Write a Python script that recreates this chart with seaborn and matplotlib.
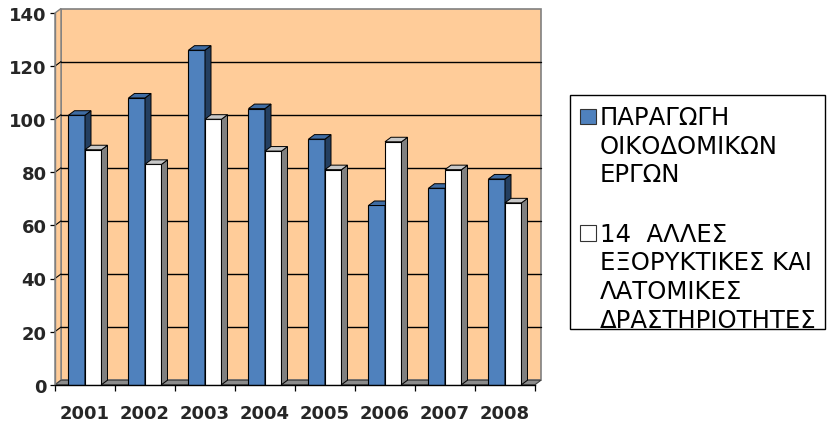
import numpy as np
import pandas as pd
import matplotlib
matplotlib.use("Agg")
import matplotlib.pyplot as plt
from matplotlib.patches import Polygon, Rectangle
import seaborn as sns

# ---- data -------------------------------------------------------------
years = ["2001", "2002", "2003", "2004", "2005", "2006", "2007", "2008"]
construction = [101.5, 108, 126, 104, 92.5, 67.5, 74, 77.5]
quarrying = [88.5, 83, 100, 88, 81, 91.5, 81, 68.5]
series_names = ["ΠΑΡΑΓΩΓΗ ΟΙΚΟΔΟΜΙΚΩΝ ΕΡΓΩΝ",
                "14  ΑΛΛΕΣ ΕΞΟΡΥΚΤΙΚΕΣ ΚΑΙ ΛΑΤΟΜΙΚΕΣ ΔΡΑΣΤΗΡΙΟΤΗΤΕΣ"]
legend_lines = [["ΠΑΡΑΓΩΓΗ", "ΟΙΚΟΔΟΜΙΚΩΝ", "ΕΡΓΩΝ"],
                ["14  ΑΛΛΕΣ", "ΕΞΟΡΥΚΤΙΚΕΣ ΚΑΙ", "ΛΑΤΟΜΙΚΕΣ", "ΔΡΑΣΤΗΡΙΟΤΗΤΕΣ"]]
y_ticks = [0, 20, 40, 60, 80, 100, 120, 140]

df = pd.DataFrame({
    "year": years * 2,
    "series": [series_names[0]] * len(years) + [series_names[1]] * len(years),
    "value": construction + quarrying,
})

# ---- style ------------------------------------------------------------
WALL = "#FFCC99"
GRAY = "#808080"
front_colors = ["#4F81BD", "#FFFFFF"]
top_colors = ["#3F6CA3", "#C8C8C8"]
side_colors = ["#243F60", "#808080"]

sns.set_style("white")
plt.rcParams["font.family"] = ["DejaVu Sans"]

W, H = 828, 427
fig = plt.figure(figsize=(W / 100, H / 100), dpi=100)
ax = fig.add_axes([55 / W, 41.3 / H, 480 / W, 371.7 / H])

sns.barplot(data=df, x="year", y="value", hue="series", palette=front_colors,
            saturation=1, width=0.55, errorbar=None, edgecolor="black",
            linewidth=0.8, legend=False, ax=ax)

ax.set_xlim(-0.5, len(years) - 0.5)
ax.set_ylim(y_ticks[0], y_ticks[-1])
ax.patch.set_visible(False)

# depth of the 3-D box, in pixels, turned into data units
DX, DY = 6.0, 4.5
ddx = DX / (ax.bbox.width / len(years))
ddy = DY / (ax.bbox.height / (y_ticks[-1] - y_ticks[0]))
x_lo, x_hi = -0.5, len(years) - 0.5
y_top = y_ticks[-1]

# back wall
ax.add_patch(Polygon([(x_lo + ddx, ddy), (x_hi + ddx, ddy),
                      (x_hi + ddx, y_top + ddy), (x_lo + ddx, y_top + ddy)],
                     closed=True, facecolor=WALL, edgecolor=GRAY, lw=1.2,
                     zorder=0.5, clip_on=False))
# left side wall
ax.add_patch(Polygon([(x_lo, 0), (x_lo + ddx, ddy),
                      (x_lo + ddx, y_top + ddy), (x_lo, y_top)],
                     closed=True, facecolor=WALL, edgecolor=GRAY, lw=1.0,
                     zorder=0.55, clip_on=False))
# floor
ax.add_patch(Polygon([(x_lo, 0), (x_hi, 0), (x_hi + ddx, ddy), (x_lo + ddx, ddy)],
                     closed=True, facecolor="#8C8C8C", edgecolor="#404040",
                     lw=0.8, zorder=0.6, clip_on=False))
# gridlines on the back wall and the side wall
for v in y_ticks[1:-1]:
    ax.plot([x_lo + ddx, x_hi + ddx], [v + ddy, v + ddy], color="black",
            lw=1.0, zorder=0.7, clip_on=False)
    ax.plot([x_lo, x_lo + ddx], [v, v + ddy], color="black", lw=0.8,
            zorder=0.7, clip_on=False)

# 3-D faces of each bar
for k, cont in enumerate(ax.containers):
    for bar in cont.patches:
        bar.set_zorder(2 + k * 0.2)
        x0 = bar.get_x()
        x1 = x0 + bar.get_width()
        h = bar.get_height()
        ax.add_patch(Polygon([(x1, 0), (x1, h), (x1 + ddx, h + ddy), (x1 + ddx, ddy)],
                             closed=True, facecolor=side_colors[k],
                             edgecolor="black", lw=0.7, zorder=2.1 + k * 0.2,
                             clip_on=False))
        ax.add_patch(Polygon([(x0, h), (x1, h), (x1 + ddx, h + ddy), (x0 + ddx, h + ddy)],
                             closed=True, facecolor=top_colors[k],
                             edgecolor="black", lw=0.7, zorder=2.1 + k * 0.2,
                             clip_on=False))

# axes, ticks, labels
for s in ["top", "right"]:
    ax.spines[s].set_visible(False)
ax.spines["left"].set_color(GRAY)
ax.spines["left"].set_linewidth(1.0)
ax.spines["bottom"].set_color("black")
ax.spines["bottom"].set_linewidth(1.0)
ax.spines["left"].set_zorder(0.8)
ax.spines["bottom"].set_zorder(3)

ax.set_yticks(y_ticks)
ax.set_yticklabels([str(t) for t in y_ticks], fontsize=13, fontweight="bold")
ax.tick_params(axis="y", which="major", left=True, length=3.5, width=0.9,
               color="black", pad=2.5)
ax.set_xticks(range(len(years)))
ax.set_xticklabels(years, fontsize=13, fontweight="bold")
ax.set_xticks(np.arange(-0.5, len(years), 1.0), minor=True)
ax.tick_params(axis="x", which="major", bottom=False, length=0, pad=14)
ax.tick_params(axis="x", which="minor", bottom=True, length=4, width=0.9,
               color="black")
ax.set_xlabel("")
ax.set_ylabel("")

# legend box on the right
def fx(x):
    return x / W


def fy(y):
    return 1 - y / H


fig.patches.append(Rectangle((fx(570), fy(330)), fx(825) - fx(570), fy(96) - fy(330),
                             transform=fig.transFigure, facecolor="white",
                             edgecolor="black", lw=1.0, zorder=1))
first_baselines = [125.3, 241.8]
line_step = 28.6
for k, lines in enumerate(legend_lines):
    b0 = first_baselines[k]
    fig.patches.append(Rectangle((fx(580.5), fy(b0)), fx(15.5), fy(0) - fy(15.5),
                                 transform=fig.transFigure,
                                 facecolor=front_colors[k], edgecolor="#333333",
                                 lw=0.8, zorder=2))
    for j, line in enumerate(lines):
        fig.text(fx(600), fy(b0 + j * line_step), line, fontsize=17.6,
                 ha="left", va="baseline", color="black", zorder=3)

fig.savefig("out.png", dpi=100)
